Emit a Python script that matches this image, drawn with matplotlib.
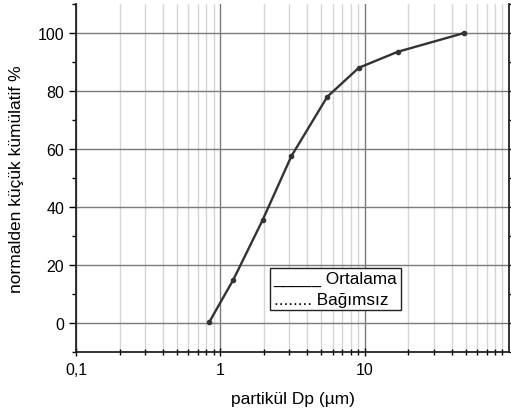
import numpy as np
import matplotlib.pyplot as plt
from matplotlib.ticker import FixedLocator, FixedFormatter, LogLocator, NullFormatter, MultipleLocator

plt.rcParams['font.family'] = ['Liberation Sans', 'DejaVu Sans']

# partikül çapı (µm) ve kümülatif yüzde
dp = [0.84, 1.23, 1.96, 3.1, 5.5, 9.1, 16.9, 49]
kumulatif = [0.5, 15, 35.5, 57.5, 78, 88, 93.5, 100]

xticks = [0.1, 1, 10]
xticklabels = ['0,1', '1', '10']
yticks = [0, 20, 40, 60, 80, 100]

fig = plt.figure(figsize=(5.11, 4.14), dpi=100)
ax = fig.add_axes([0.149, 0.147, 0.847, 0.841])

ax.set_xscale('log')
ax.set_xlim(0.1, 100)
ax.set_ylim(-10, 110)

ax.xaxis.set_major_locator(FixedLocator(xticks))
ax.xaxis.set_major_formatter(FixedFormatter(xticklabels))
ax.xaxis.set_minor_locator(LogLocator(base=10, subs=np.arange(2, 10)))
ax.xaxis.set_minor_formatter(NullFormatter())
ax.yaxis.set_major_locator(FixedLocator(yticks))
ax.yaxis.set_minor_locator(MultipleLocator(10))

# izgara
ax.grid(which='major', axis='both', color='#7a7a7a', lw=1.0, zorder=0)
ax.grid(which='minor', axis='x', color='#d6d6d6', lw=1.0, zorder=0)

ax.plot(dp, kumulatif, color='#333333', lw=1.7, marker='o', ms=3, zorder=3)

ax.spines['top'].set_visible(False)
for s in ['left', 'bottom', 'right']:
    ax.spines[s].set_linewidth(1.3)
    ax.spines[s].set_color('#222222')

ax.tick_params(axis='x', which='major', direction='inout', length=6, width=1, labelsize=11.5, pad=4)
ax.tick_params(axis='x', which='minor', direction='inout', length=4, width=1)
ax.tick_params(axis='y', which='major', direction='out', length=5, width=1, labelsize=11.5,
               right=True)
ax.tick_params(axis='y', which='minor', direction='out', length=3, width=1, right=True)

ax.set_xlabel('partikül Dp (µm)', fontsize=12.5, labelpad=10)
ax.set_ylabel('normalden küçük kümülatif %', fontsize=12.5, labelpad=10)

ax.text(0.456, 0.13, '_____ Ortalama\n........ Bağımsız', transform=ax.transAxes,
        fontsize=12.3, linespacing=1.45, va='bottom', ha='left', zorder=5,
        bbox=dict(boxstyle='square,pad=0.2', fc='white', ec='#222222', lw=1))

fig.savefig('out.png', dpi=100)
